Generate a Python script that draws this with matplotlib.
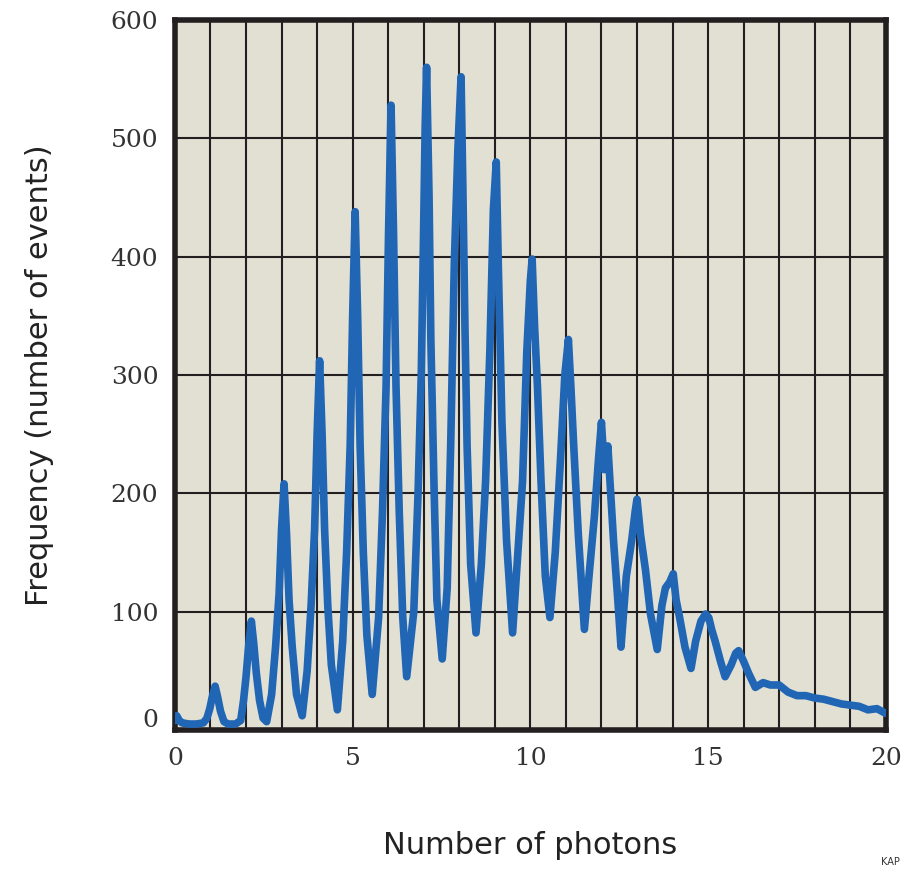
import matplotlib
matplotlib.use("Agg")
import matplotlib.pyplot as plt
import matplotlib.transforms as mtransforms

# Photon number histogram (centre of the trace)
photons = [0.00, 0.05, 0.12, 0.20, 0.40, 0.60, 0.80, 0.90,
           0.98, 1.05, 1.13, 1.20, 1.28, 1.38, 1.50, 1.70, 1.85,
           1.93, 2.00, 2.07, 2.15, 2.22, 2.29, 2.38, 2.48, 2.58,
           2.72, 2.83, 2.93, 3.00, 3.07, 3.14, 3.21, 3.30, 3.42, 3.58,
           3.72, 3.83, 3.93, 4.00, 4.07, 4.14, 4.21, 4.30, 4.40, 4.57,
           4.72, 4.83, 4.93, 5.00, 5.07, 5.14, 5.21, 5.30, 5.40, 5.55,
           5.73, 5.84, 5.94, 6.01, 6.08, 6.15, 6.22, 6.31, 6.41, 6.52,
           6.72, 6.84, 6.93, 6.99, 7.04, 7.08, 7.15, 7.20, 7.29, 7.37, 7.52,
           7.66, 7.76, 7.86, 7.96, 8.05, 8.10, 8.16, 8.22, 8.32, 8.47,
           8.62, 8.74, 8.86, 8.96, 9.04, 9.10, 9.20, 9.33, 9.50,
           9.65, 9.78, 9.90, 10.00, 10.05, 10.12, 10.20, 10.30, 10.42, 10.55,
           10.70, 10.85, 10.97, 11.07, 11.14, 11.22, 11.35, 11.52,
           11.65, 11.80, 11.92, 12.00, 12.08, 12.18, 12.26, 12.34, 12.46, 12.55,
           12.70, 12.85, 12.95, 13.00, 13.10, 13.24, 13.38, 13.57,
           13.70, 13.80, 13.92, 14.02, 14.10, 14.20, 14.35, 14.52,
           14.65, 14.80, 14.93, 15.02, 15.10, 15.20, 15.35, 15.48,
           15.65, 15.78, 15.86, 16.00, 16.14, 16.33,
           16.55, 16.75, 17.00, 17.25, 17.50, 17.75, 18.00, 18.25, 18.50,
           18.75, 19.00, 19.25, 19.50, 19.75, 20.00]

events = [8, 12, 8, 6, 5, 5, 6, 10,
          18, 28, 37, 28, 16, 7, 5, 5, 8,
          25, 45, 70, 92, 72, 48, 25, 10, 7,
          30, 70, 115, 170, 208, 165, 110, 70, 30, 12,
          50, 105, 170, 250, 312, 250, 170, 105, 55, 17,
          75, 150, 240, 350, 438, 350, 240, 150, 80, 30,
          95, 185, 290, 420, 528, 420, 290, 185, 95, 45,
          100, 200, 300, 410, 510, 560, 450, 330, 205, 110, 60,
          120, 243, 394, 490, 552, 460, 340, 240, 140, 82,
          140, 210, 320, 440, 480, 390, 260, 160, 82,
          150, 210, 320, 380, 398, 340, 290, 210, 130, 95,
          150, 230, 300, 330, 290, 240, 165, 85,
          130, 180, 230, 260, 220, 240, 200, 160, 110, 70,
          130, 160, 185, 195, 165, 135, 98, 68,
          105, 120, 125, 132, 110, 95, 70, 52,
          75, 92, 98, 95, 85, 75, 58, 45,
          55, 65, 67, 58, 48, 36,
          40, 38, 38, 32, 29, 29, 27, 26, 24,
          22, 21, 20, 17, 18, 14]

x_ticks = [0, 5, 10, 15, 20]
y_ticks = [0, 100, 200, 300, 400, 500, 600]

fig = plt.figure(figsize=(9.16, 8.69), dpi=100)
ax = fig.add_axes([0.191, 0.160, 0.776, 0.817])
ax.set_facecolor("#e2e0d3")

ax.plot(photons, events, color="#2166b4", linewidth=5.5,
        solid_joinstyle="round", solid_capstyle="round", zorder=3)

ax.set_xlim(0, 20)
ax.set_ylim(0, 600)
ax.set_xticks(range(0, 21), minor=True)
ax.set_xticks(x_ticks)
ax.set_yticks(y_ticks)
ax.grid(True, which="both", color="#231f20", linewidth=1.5)
ax.set_axisbelow(True)
ax.tick_params(which="both", length=0, labelsize=18, labelcolor="#333333", pad=12)
for lab in ax.get_xticklabels() + ax.get_yticklabels():
    lab.set_family("DejaVu Serif")

for s in ax.spines.values():
    s.set_linewidth(4)
    s.set_color("#231f20")

ax.set_ylabel("Frequency (number of events)", fontsize=22, color="#222222", labelpad=41)
ax.set_xlabel("Number of photons", fontsize=22, color="#222222", labelpad=44)

# lift the y "0" label a little, as in the reference
fig.canvas.draw()
zero = ax.get_yticklabels()[0]
zero.set_transform(zero.get_transform() +
                   mtransforms.ScaledTranslation(0, 12 / 100, fig.dpi_scale_trans))

fig.text(0.962, 0.002, "KAP", fontsize=7, color="#333333", va="bottom")

fig.savefig("out.png", dpi=100)
